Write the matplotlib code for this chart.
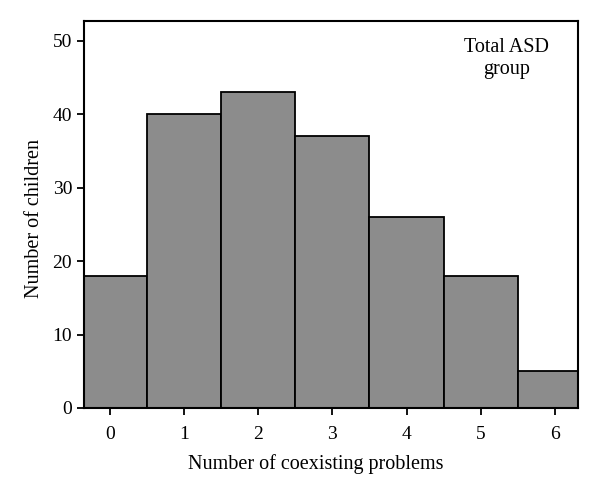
import matplotlib
matplotlib.use("Agg")
import matplotlib.pyplot as plt

problems = [0, 1, 2, 3, 4, 5, 6]
children = [18, 40, 43, 37, 26, 18, 5]
yticks = [0, 10, 20, 30, 40, 50]

plt.rcParams["font.family"] = ["Liberation Serif", "DejaVu Serif"]

fig = plt.figure(figsize=(6, 5), dpi=100)
ax = fig.add_axes([0.14, 0.184, 0.823, 0.774])

ax.bar(problems, children, width=1.0, color="#8c8c8c", edgecolor="black", linewidth=1.3)

ax.set_xlim(-0.35, 6.31)
ax.set_ylim(0, 52.7)
ax.set_xticks(problems)
ax.set_yticks(yticks)
ax.tick_params(direction="out", length=5, width=1.3, labelsize=14)
ax.tick_params(axis="x", pad=8)
for s in ax.spines.values():
    s.set_linewidth(1.5)

ax.set_xlabel("Number of coexisting problems", fontsize=14.5)
ax.set_ylabel("Number of children", fontsize=14.5)
ax.xaxis.set_label_coords(0.47, -0.12)
ax.yaxis.set_label_coords(-0.08, 0.49)

ax.text(0.855, 0.955, "Total ASD\ngroup", transform=ax.transAxes, ha="center", va="top",
        fontsize=14.5, linespacing=1.2)

fig.savefig("out.png", dpi=100)
